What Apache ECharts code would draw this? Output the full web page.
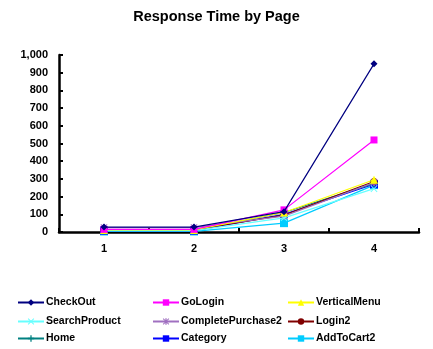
<!DOCTYPE html>
<html>
<head>
<meta charset="utf-8">
<script src="https://cdn.jsdelivr.net/npm/echarts@6/dist/echarts.min.js"></script>
<style>
  html, body { margin: 0; padding: 0; background: #fff; }
  #chart { width: 433px; height: 349px; }
</style>
</head>
<body>
<div id="chart"></div>
<script>
// Pages and their response times at each of the four measurement steps
const categories = ['1', '2', '3', '4'];
const seriesNames = ['CheckOut', 'GoLogin', 'VerticalMenu', 'SearchProduct', 'CompletePurchase2', 'Login2', 'Home', 'Category', 'AddToCart2'];
const checkOut = [28, 28, 115, 950];
const goLogin = [15, 15, 125, 520];
const verticalMenu = [12, 12, 110, 295];
const searchProduct = [8, 8, 80, 245];
const completePurchase2 = [25, 25, 90, 280];
const login2 = [12, 12, 95, 285];
const home = [10, 10, 110, 275];
const category = [8, 8, 100, 270];
const addToCart2 = [3, 3, 50, 265];
const yTicks = [0, 100, 200, 300, 400, 500, 600, 700, 800, 900, 1000];

const seriesData = [checkOut, goLogin, verticalMenu, searchProduct, completePurchase2, login2, home, category, addToCart2];
const colors = ['#000080', '#FF00FF', '#FFFF00', '#66FFFF', '#A070C0', '#800000', '#008080', '#0000FF', '#00CCFF'];

// Marker shapes in the Excel style
const crossX = 'path://M1,0L5,4L9,0L10,1L6,5L10,9L9,10L5,6L1,10L0,9L4,5L0,1Z';
const plus = 'path://M4,0H6V4H10V6H6V10H4V6H0V4H4Z';
const star = 'path://M1,0L5,4L9,0L10,1L6,5L10,9L9,10L5,6L1,10L0,9L4,5L0,1Z M4,0H6V10H4Z';
const dash = 'path://M0,4H10V6H0Z';
const symbols = ['diamond', 'rect', 'triangle', crossX, star, 'circle', plus, dash, dash];
const symbolSizes = [7, 7, 8, 7, 7, 7, 8, 8, 8];

const FONT = 'Arial, Liberation Sans, sans-serif';
const chart = echarts.init(document.getElementById('chart'));

const series = seriesNames.map((name, i) => ({
  name: name,
  type: 'line',
  data: seriesData[i],
  symbol: symbols[i],
  symbolSize: symbolSizes[i],
  lineStyle: { color: colors[i], width: 1.2 },
  itemStyle: { color: colors[i], borderColor: colors[i], borderWidth: 0 },
  emphasis: { disabled: true },
  z: 10 - i
}));

// Legend laid out as a 3 x 3 grid
const legendCols = [17, 152, 287];
const legendRows = [297, 316, 333];
const legends = seriesNames.map((name, i) => ({
  data: [name],
  left: legendCols[i % 3],
  top: legendRows[Math.floor(i / 3)],
  itemWidth: 26,
  itemHeight: 8,
  padding: 0,
  itemGap: 0,
  selectedMode: false,
  textStyle: { fontFamily: FONT, fontSize: 10.5, fontWeight: 'bold', color: '#000', padding: [0, 0, 0, -3] }
}));

chart.setOption({
  animation: false,
  backgroundColor: '#fff',
  title: {
    text: 'Response Time by Page',
    left: 'center',
    top: 4,
    textStyle: { fontFamily: FONT, fontSize: 14.5, fontWeight: 'bold', color: '#000' }
  },
  legend: legends,
  grid: { left: 59, right: 14, top: 55, bottom: 117 },
  xAxis: {
    type: 'category',
    data: categories,
    boundaryGap: true,
    axisLine: { lineStyle: { color: '#000', width: 2.5 } },
    axisTick: { show: true, inside: true, length: 4, lineStyle: { color: '#000', width: 2 } },
    axisLabel: { fontFamily: FONT, fontSize: 11, fontWeight: 'bold', color: '#000', margin: 11 },
    splitLine: { show: false }
  },
  yAxis: {
    type: 'value',
    min: yTicks[0],
    max: yTicks[yTicks.length - 1],
    interval: 100,
    axisLine: { show: true, lineStyle: { color: '#000', width: 2.5 } },
    axisTick: { show: true, inside: true, length: 4, lineStyle: { color: '#000', width: 2 } },
    axisLabel: {
      fontFamily: FONT, fontSize: 11, fontWeight: 'bold', color: '#000', margin: 11,
      formatter: v => v.toLocaleString('en-US')
    },
    splitLine: { show: false }
  },
  series: series
});
</script>
</body>
</html>
